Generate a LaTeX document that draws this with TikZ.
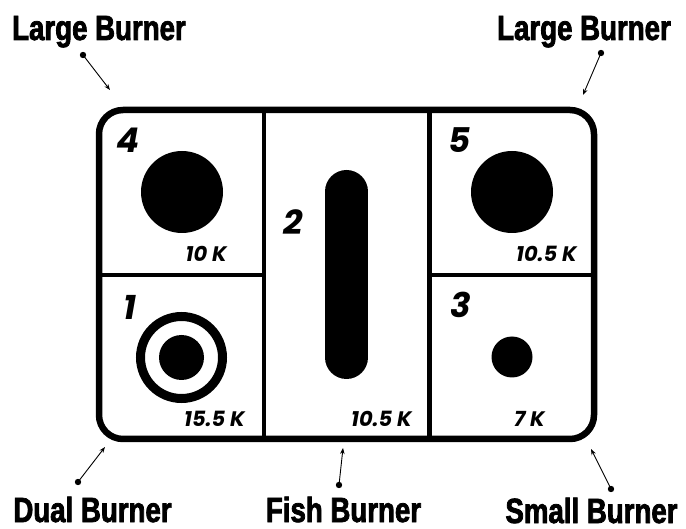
\documentclass[tikz,border=0pt]{standalone}
\usepackage{fontspec}
\usetikzlibrary{arrows.meta}
\newfontfamily\labelfont[FakeStretch=0.79,BoldFeatures={FakeBold=2.2}]{Liberation Sans}
\newfontfamily\numfont{Poppins}
\begin{document}
\begin{tikzpicture}[x=1pt,y=-1pt,
  lbl/.style={font=\labelfont\bfseries\fontsize{35}{35}\selectfont, inner sep=0pt, anchor=base},
  num/.style={font=\numfont\bfseries\itshape\fontsize{34}{34}\selectfont, inner sep=0pt},
  kw/.style={font=\numfont\bfseries\itshape\fontsize{21}{21}\selectfont, inner sep=0pt, anchor=base east},
  pointer/.style={line width=0.9pt, -{Stealth[length=6pt,width=4.5pt]}},
  frame/.style={line width=6.5pt, rounded corners=24pt},
  divider/.style={line width=4.5pt},
  dotmark/.style={fill=black}]
\useasboundingbox (0,0) rectangle (686,529);
% frame and dividers
\draw[frame] (99,110) rectangle (594,439);
\draw[divider] (264,110) -- (264,439);
\draw[divider] (429.5,110) -- (429.5,439);
\draw[divider] (99,275) -- (264,275);
\draw[divider] (429.5,275) -- (594,275);
% burners
\fill (182,192) circle[radius=41pt];
\fill (512,192) circle[radius=41pt];
\draw[line width=9pt] (181.5,357.5) circle[radius=41pt];
\fill (181.5,357.5) circle[radius=22.5pt];
\draw[line width=43pt, line cap=round] (346.5,191.5) -- (346.5,357.5);
\fill (512,357) circle[radius=20.5pt];
% numbers
\node[num] (n4) at (128,140) {4};
\node[num] (n1) at (130,307) {1};
\node[num] (n2) at (293,222) {2};
\node[num] (n5) at (460,140) {5};
\node[num] (n3) at (461,305) {3};
% ratings
\node[kw] (k4) at (227,262) {10 K};
\node[kw] (k5) at (577,262) {10.5 K};
\node[kw] (k1) at (245,427) {15.5 K};
\node[kw] (k2) at (412,427) {10.5 K};
\node[kw] (k3) at (545,427) {7 K};
% labels
\node[lbl] (l1) at (99,40) {Large Burner};
\node[lbl] (l2) at (584,40) {Large Burner};
\node[lbl] (l3) at (92.5,522) {Dual Burner};
\node[lbl] (l4) at (343.5,522) {Fish Burner};
\node[lbl] (l5) at (591.5,523) {Small Burner};
% pointers
\coordinate (d1) at (83,55);  \coordinate (t1) at (110,90);
\coordinate (d2) at (601,53); \coordinate (t2) at (583,95);
\coordinate (d3) at (78,482); \coordinate (t3) at (105,447);
\coordinate (d4) at (339,485); \coordinate (t4) at (343,448);
\coordinate (d5) at (611,489); \coordinate (t5) at (591,449);
\foreach \i in {1,...,5} {
  \fill[dotmark] (d\i) circle[radius=3.2pt];
  \draw[pointer] (d\i) -- (t\i);
}
\end{tikzpicture}
\end{document}
